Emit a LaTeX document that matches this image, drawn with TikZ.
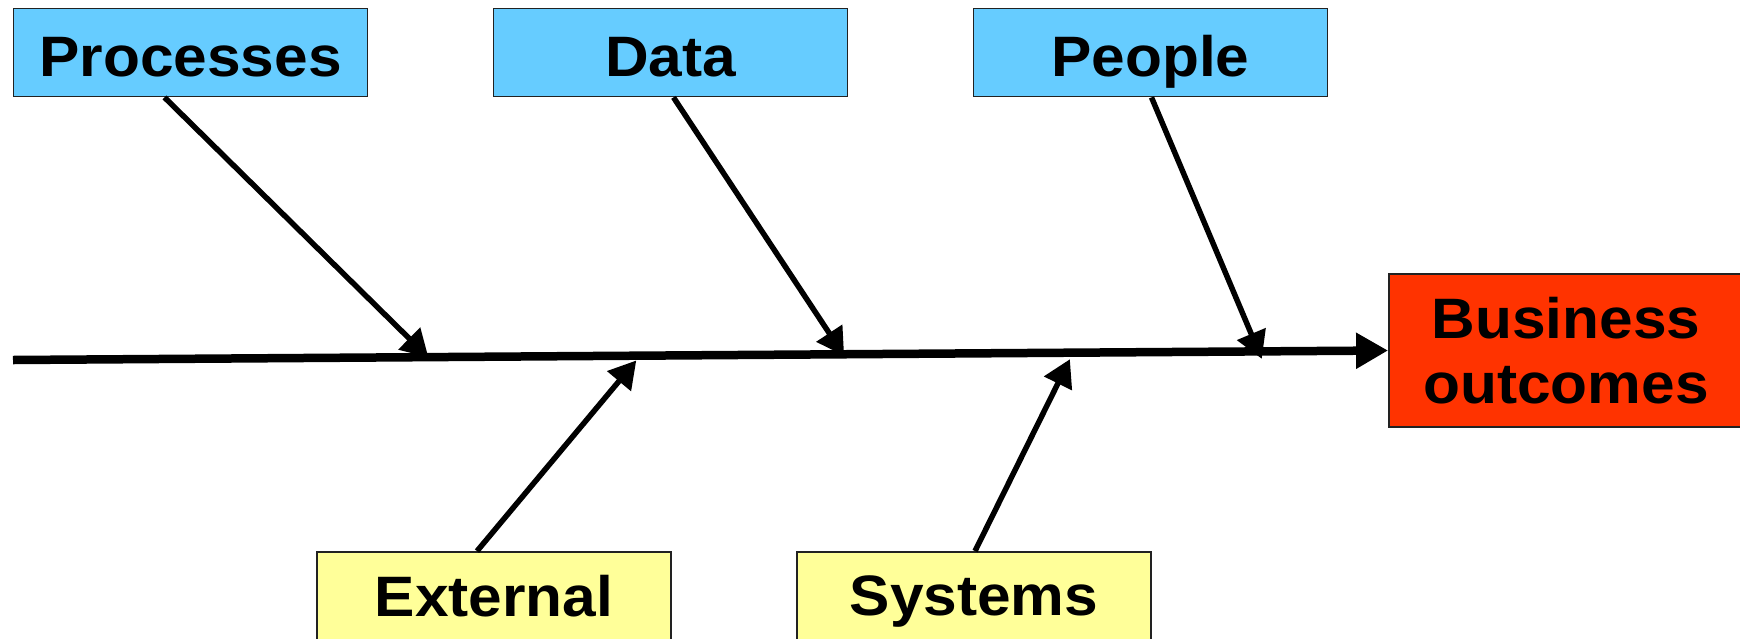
\documentclass[tikz,border=0pt]{standalone}
\usepackage{fontspec}
\setmainfont{Liberation Sans}[FakeStretch=1.06]
\usetikzlibrary{arrows.meta}
\definecolor{cblue}{HTML}{66CCFF}
\definecolor{cyellow}{HTML}{FFFF99}
\definecolor{cred}{HTML}{FF3300}
\definecolor{cborder}{HTML}{222222}
\begin{document}
\begin{tikzpicture}[x=1pt,y=-1pt,
  box/.style={draw=cborder, line width=1.8pt, minimum width=354pt, minimum height=88pt,
    inner sep=0pt, font=\fontsize{57}{64}\selectfont\bfseries, text depth=0pt},
  bluebox/.style={box, fill=cblue, text height=47pt},
  yellowbox/.style={box, fill=cyellow},
  branch/.style={line width=5.5pt, -{Triangle[length=27pt,width=30pt]}, shorten >=-2pt},
  spine/.style={line width=8.5pt, -{Triangle[length=32pt,width=34pt]}}]
\useasboundingbox (0,0) rectangle (1740,638);
\node[bluebox] (proc) at (190.5,52.5) {Processes};
\node[bluebox] (data) at (670.5,52.5) {Data};
\node[bluebox] (people) at (1150.5,52.5) {People};
\node[yellowbox] (ext) at (494,596) {External};
\node[yellowbox] (sys) at (974,596) {Systems};
\node[draw=cborder, line width=1.8pt, fill=cred, minimum width=354pt, minimum height=153pt,
  inner sep=0pt, align=center, font=\fontsize{57}{65}\selectfont\bfseries] (biz) at (1566,350.5) {Business\\outcomes};
\coordinate (start) at (13,360);
\coordinate (tproc) at (427,356);
\coordinate (tdata) at (843,354);
\coordinate (tpeople) at (1261,357);
\coordinate (text) at (635,362);
\coordinate (tsys) at (1069,361);
\draw[spine] (start) -- (biz.west);
\draw[branch] ([xshift=-26pt]proc.south) -- (tproc);
\draw[branch] ([xshift=3pt]data.south) -- (tdata);
\draw[branch] ([xshift=1pt]people.south) -- (tpeople);
\draw[branch] ([xshift=-17pt]ext.north) -- (text);
\draw[branch] ([xshift=1pt]sys.north) -- (tsys);
\end{tikzpicture}
\end{document}
